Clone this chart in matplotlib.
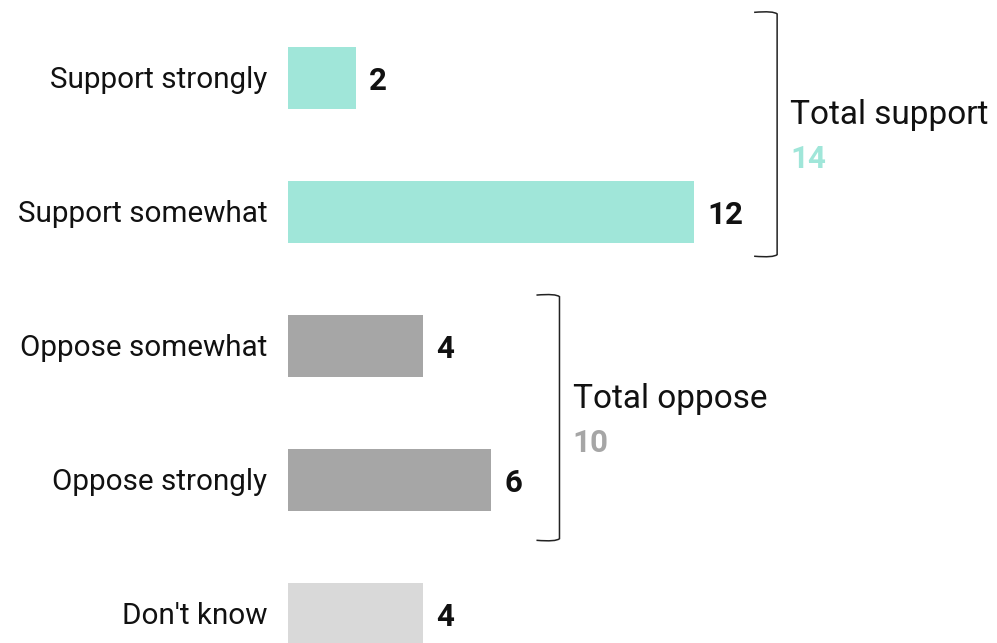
import matplotlib.pyplot as plt
from matplotlib.path import Path
from matplotlib.patches import PathPatch

categories = ["Support strongly", "Support somewhat", "Oppose somewhat", "Oppose strongly", "Don't know"]
values = [2, 12, 4, 6, 4]
colors = ["#a0e6d9", "#a0e6d9", "#a6a6a6", "#a6a6a6", "#d9d9d9"]

# groups: (first index, last index, title, color)
groups = [(0, 1, "Total support", "#a0e6d9"), (2, 3, "Total oppose", "#a6a6a6")]

plt.rcParams['font.family'] = ['Roboto', 'DejaVu Sans']

W, H = 997, 643
fig = plt.figure(figsize=(W / 100, H / 100), dpi=100)
left = 288 / W
ax = fig.add_axes([left, 0, 1 - left, 1])
px_x = 33.85         # pixels per unit
px_y = 134           # pixels per category
ax.set_xlim(0, (W - 288) / px_x)
ax.set_ylim((H - 78) / px_y, -78 / px_y)
ax.axis('off')

y = list(range(len(categories)))
ax.barh(y, values, height=62 / px_y, color=colors)

for i, (cat, v) in enumerate(zip(categories, values)):
    ax.annotate(cat, (0, i), xytext=(-15, -7.2), textcoords='offset points',
                ha='right', va='baseline', fontsize=21.3, color='#111111')
    ax.annotate(str(v), (v, i), xytext=(9.5, -8.6), textcoords='offset points',
                ha='left', va='baseline', fontsize=22.5, fontweight='bold', color='#111111')

# bracket placement (style): x position, top, bottom
bracket_x = [14.45, 8.02]
bracket_span = [(-0.49, 1.33), (1.62, 3.45)]
for (a, b, title, col), bx, (y0, y1) in zip(groups, bracket_x, bracket_span):
    serif = 0.68
    dy = 0.012
    verts = [(bx - serif, y0), (bx - 0.1, y0 - dy), (bx, y0 + 0.012),
             (bx, y1 - 0.012), (bx - 0.1, y1 + dy), (bx - serif, y1)]
    codes = [Path.MOVETO, Path.CURVE3, Path.CURVE3, Path.LINETO, Path.CURVE3, Path.CURVE3]
    ax.add_patch(PathPatch(Path(verts, codes), fill=False, lw=1.1, edgecolor='#222222', clip_on=False))
    total = sum(values[a:b + 1])
    ym = (y0 + y1) / 2
    ax.annotate(title, (bx, ym), xytext=(9.5, 7.2), textcoords='offset points',
                ha='left', va='baseline', fontsize=24, color='#111111')
    ax.annotate(str(total), (bx, ym), xytext=(9.5, -24.5), textcoords='offset points',
                ha='left', va='baseline', fontsize=22.5, fontweight='bold', color=col)

fig.savefig("out.png", dpi=100)
